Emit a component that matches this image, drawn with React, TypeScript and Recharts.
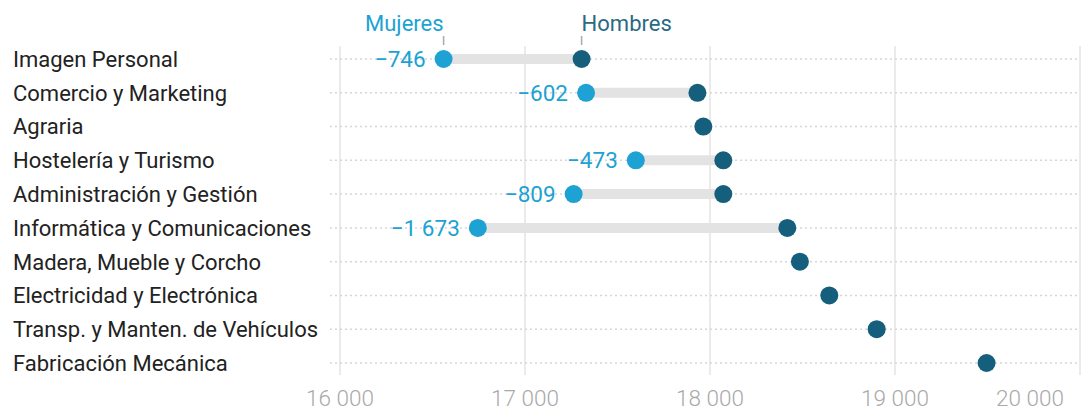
import React from "react";
import {
  ScatterChart,
  Scatter,
  XAxis,
  YAxis,
  ReferenceLine,
} from "recharts";

const familias = [
  "Imagen Personal",
  "Comercio y Marketing",
  "Agraria",
  "Hostelería y Turismo",
  "Administración y Gestión",
  "Informática y Comunicaciones",
  "Madera, Mueble y Corcho",
  "Electricidad y Electrónica",
  "Transp. y Manten. de Vehículos",
  "Fabricación Mecánica",
];

const hombres = [17306, 17932, 17964, 18072, 18072, 18418, 18486, 18645, 18901, 19495];
const mujeres: (number | null)[] = [16560, 17330, null, 17599, 17263, 16745, null, null, null, null];
const brecha: (number | null)[] = [-746, -602, null, -473, -809, -1673, null, null, null, null];

const xTicks = [16000, 17000, 18000, 19000, 20000];

const MUJ = "#1da2d3";
const HOM = "#165f7c";

const fmt = (n: number) => {
  const s = Math.abs(n).toString().replace(/\B(?=(\d{3})+(?!\d))/g, " ");
  return (n < 0 ? "\u2212" : "") + s;
};

const hombresData = hombres.map((v, i) => ({ x: v, y: i }));
const mujeresData = mujeres
  .map((v, i) => (v == null ? null : { x: v, y: i, diff: brecha[i] }))
  .filter(Boolean) as { x: number; y: number; diff: number }[];

const FamiliaTick = (props: any) => {
  const { y, payload } = props;
  return (
    <text x={13} y={y} dy="0.36em" textAnchor="start" fontSize={22} fill="#222" fontFamily="Roboto">
      {familias[payload.value]}
    </text>
  );
};

// last tick sits flush with the right edge
const ValorTick = (props: any) => {
  const { x, y, payload } = props;
  const last = payload.value === xTicks[xTicks.length - 1];
  return (
    <text
      x={last ? x + 1 : x}
      y={y}
      dy="0.71em"
      textAnchor={last ? "end" : "middle"}
      fontSize={22.5}
      fill="#a9a9a9"
      fontFamily="Roboto"
      fontWeight={300}
    >
      {fmt(payload.value)}
    </text>
  );
};

const HombresDot = (props: any) => {
  const { cx, cy, payload } = props;
  return (
    <g>
      {payload.y === 0 && (
        <g>
          <line x1={cx} x2={cx} y1={36} y2={45} stroke="#aaa" strokeWidth={1.5} />
          <text x={cx} y={31} textAnchor="start" fontSize={22} fill="#2a6a82" fontFamily="Roboto">
            Hombres
          </text>
        </g>
      )}
      <circle cx={cx} cy={cy} r={9} fill={HOM} />
    </g>
  );
};

const MujeresDot = (props: any) => {
  const { cx, cy, payload } = props;
  return (
    <g>
      {payload.y === 0 && (
        <g>
          <line x1={cx} x2={cx} y1={36} y2={45} stroke="#aaa" strokeWidth={1.5} />
          <text x={cx} y={31} textAnchor="end" fontSize={22} fill={MUJ} fontFamily="Roboto">
            Mujeres
          </text>
        </g>
      )}
      <text x={cx - 18} y={cy} dy="0.36em" textAnchor="end" fontSize={22.5} fill={MUJ} fontFamily="Roboto">
        {fmt(payload.diff)}
      </text>
      <circle cx={cx} cy={cy} r={9} fill={MUJ} />
    </g>
  );
};

export default function App() {
  return (
    <div style={{ position: "fixed", left: 0, top: 0, width: 1083, height: 410, background: "#fff" }}>
      <ScatterChart width={1083} height={410} margin={{ top: 46, right: 3, left: 0, bottom: 0 }}>
        <XAxis
          type="number"
          dataKey="x"
          domain={[15946, 20000]}
          ticks={xTicks}
          axisLine={false}
          tickLine={false}
          tickMargin={9}
          height={35}
          tick={<ValorTick />}
        />
        <YAxis
          type="number"
          dataKey="y"
          domain={[-0.385, 9.355]}
          ticks={familias.map((_, i) => i)}
          reversed
          width={330}
          axisLine={false}
          tickLine={false}
          tick={<FamiliaTick />}
        />
        {xTicks.map((t) => (
          <ReferenceLine key={"v" + t} x={t} stroke="#e4e4e4" strokeWidth={1.5} />
        ))}
        {familias.map((_, i) => (
          <ReferenceLine key={"h" + i} y={i} stroke="#d6d6d6" strokeDasharray="2 3" strokeWidth={1.5} />
        ))}
        {mujeres.map((m, i) =>
          m == null ? null : (
            <ReferenceLine
              key={i}
              segment={[
                { x: m, y: i },
                { x: hombres[i], y: i },
              ]}
              stroke="#e3e3e3"
              strokeWidth={10}
            />
          )
        )}
        <Scatter data={hombresData} shape={<HombresDot />} isAnimationActive={false} />
        <Scatter data={mujeresData} shape={<MujeresDot />} isAnimationActive={false} />
      </ScatterChart>
    </div>
  );
}
